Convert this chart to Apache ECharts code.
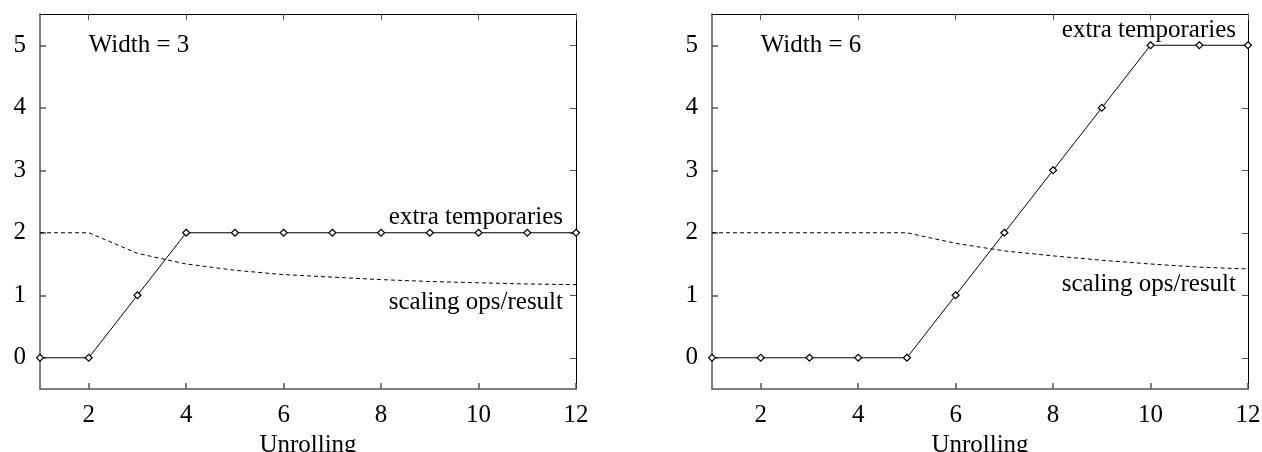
<!DOCTYPE html>
<html>
<head>
<meta charset="utf-8">
<script src="https://cdn.jsdelivr.net/npm/echarts@6/dist/echarts.min.js"></script>
<style>html,body{margin:0;padding:0;background:#fff;}#c{width:1262px;height:452px;}</style>
</head>
<body>
<div id="c"></div>
<script>
// ---- data ----
const unrolling = [1,2,3,4,5,6,7,8,9,10,11,12];
const xTicks = [2,4,6,8,10,12];
const yTicks = [0,1,2,3,4,5];
const tempW3 = [0,0,1,2,2,2,2,2,2,2,2,2];
const scaleW3 = [2,2,1.67,1.5,1.4,1.33,1.29,1.25,1.22,1.2,1.18,1.17];
const tempW6 = [0,0,0,0,0,1,2,3,4,5,5,5];
const scaleW6 = [2,2,2,2,2,1.83,1.71,1.63,1.56,1.5,1.45,1.42];
const panelTitles = ['Width = 3','Width = 6'];
const seriesNames = ['extra temporaries','scaling ops/result'];
const xName = 'Unrolling';

const FONT = 'Liberation Serif';
const FS = 25;
const chart = echarts.init(document.getElementById('c'), null, {renderer:'canvas'});

const grids = [
  {left:40, top:14, width:536, height:375, outerBoundsMode:'none', containLabel:false},
  {left:712, top:14, width:536, height:375, outerBoundsMode:'none', containLabel:false}
];

function pairs(ys){ return unrolling.map((x,i)=>[x,ys[i]]); }

const xAxes = [], yAxes = [];
for (let g=0; g<2; g++){
  xAxes.push({
    type:'value', gridIndex:g, min:1, max:12, position:'bottom',
    name:xName, nameLocation:'middle', nameGap:40,
    nameTextStyle:{fontFamily:FONT, fontSize:FS, color:'#000'},
    axisLine:{show:true, onZero:false, lineStyle:{color:'#555', width:1.5}},
    axisTick:{show:true, inside:true, length:6, customValues:xTicks, lineStyle:{color:'#555', width:1.5}},
    axisLabel:{show:true, margin:14, customValues:xTicks, fontFamily:FONT, fontSize:FS, color:'#000'},
    splitLine:{show:false}
  });
  xAxes.push({
    type:'value', gridIndex:g, min:1, max:12, position:'top',
    axisLine:{show:true, onZero:false, lineStyle:{color:'#000', width:1}},
    axisTick:{show:true, inside:true, length:6, customValues:xTicks, lineStyle:{color:'#555', width:1}},
    axisLabel:{show:false}, splitLine:{show:false}
  });
  yAxes.push({
    type:'value', gridIndex:g, min:-0.5, max:5.5, position:'left',
    axisLine:{show:true, onZero:false, lineStyle:{color:'#555', width:1.5}},
    axisTick:{show:true, inside:true, length:6, customValues:yTicks, lineStyle:{color:'#555', width:1.5}},
    axisLabel:{show:true, margin:14, customValues:yTicks, fontFamily:FONT, fontSize:FS, color:'#000'},
    splitLine:{show:false}
  });
  yAxes.push({
    type:'value', gridIndex:g, min:-0.5, max:5.5, position:'right',
    axisLine:{show:true, onZero:false, lineStyle:{color:'#000', width:1}},
    axisTick:{show:true, inside:true, length:6, customValues:yTicks, lineStyle:{color:'#555', width:1}},
    axisLabel:{show:false}, splitLine:{show:false}
  });
}

const temps = [tempW3, tempW6], scales = [scaleW3, scaleW6];
const series = [];
for (let g=0; g<2; g++){
  series.push({
    type:'line', name:seriesNames[1], xAxisIndex:g*2, yAxisIndex:g*2,
    data:pairs(scales[g]), showSymbol:false, symbol:'none', silent:true,
    lineStyle:{color:'#000', width:1, type:[4,3]}, animation:false, z:2
  });
  series.push({
    type:'line', name:seriesNames[0], xAxisIndex:g*2, yAxisIndex:g*2,
    data:pairs(temps[g]), symbol:'diamond', symbolSize:7, showAllSymbol:true,
    itemStyle:{color:'#fff', borderColor:'#000', borderWidth:1.2},
    lineStyle:{color:'#000', width:1}, animation:false, z:3, silent:true
  });
}

chart.setOption({
  animation:false,
  grid:grids, xAxis:xAxes, yAxis:yAxes, series:series
});

// annotations placed via data coordinates
const ann = [
  {g:0, text:panelTitles[0], at:[2,5], align:'left', dx:0, dy:0},
  {g:0, text:seriesNames[0], at:[12,2.24], align:'right', dx:-13, dy:0},
  {g:0, text:seriesNames[1], at:[12,0.89], align:'right', dx:-13, dy:0},
  {g:1, text:panelTitles[1], at:[2,5], align:'left', dx:0, dy:0},
  {g:1, text:seriesNames[0], at:[12,5.24], align:'right', dx:-12, dy:0},
  {g:1, text:seriesNames[1], at:[12,1.17], align:'right', dx:-12, dy:0}
];
const graphic = ann.map(a=>{
  const p = chart.convertToPixel({xAxisIndex:a.g*2, yAxisIndex:a.g*2}, a.at);
  return {type:'text', x:p[0]+a.dx, y:p[1]+a.dy, z:10,
    style:{text:a.text, fontFamily:FONT, fontSize:FS, fill:'#000', textAlign:a.align, textVerticalAlign:'middle'}};
});
chart.setOption({graphic:graphic});
</script>
</body>
</html>
